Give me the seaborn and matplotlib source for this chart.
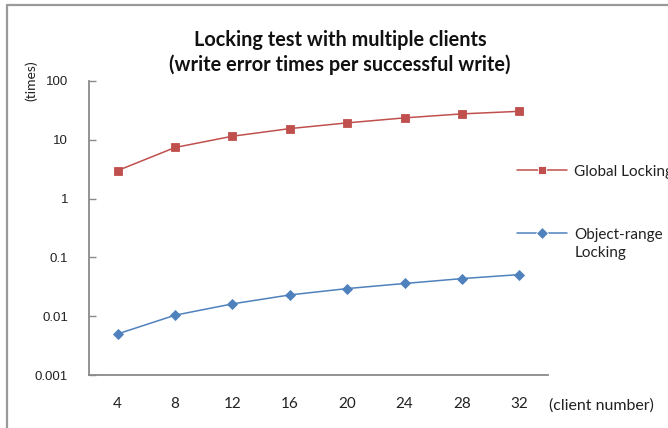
import matplotlib
matplotlib.use("Agg")
import matplotlib.pyplot as plt
import matplotlib.ticker as mticker
from matplotlib.lines import Line2D
import numpy as np
import pandas as pd
import seaborn as sns

# Data
clients = [4, 8, 12, 16, 20, 24, 28, 32]
global_locking = [3.0, 7.4, 11.5, 15.5, 19.4, 23.6, 27.6, 30.5]
object_range_locking = [0.005, 0.0104, 0.0162, 0.023, 0.0295, 0.036, 0.0436, 0.051]
series_names = ["Global Locking", "Object-range\nLocking"]
y_ticks = [0.001, 0.01, 0.1, 1, 10, 100]

df = pd.DataFrame({
    "clients": clients * 2,
    "value": global_locking + object_range_locking,
    "series": [series_names[0]] * len(clients) + [series_names[1]] * len(clients),
})

sns.set_theme(style="white")
plt.rcParams["font.family"] = ["Lato", "DejaVu Sans"]

RED = "#C0504D"
BLUE = "#4F81BD"
SPINE = "#8a8a8a"
TEXT = "#222222"

fig = plt.figure(figsize=(6.68, 4.28), dpi=100)
ax = fig.add_axes([89 / 668, 1 - 375 / 428, (548 - 89) / 668, (375 - 81) / 428])

sns.lineplot(
    data=df, x="clients", y="value", hue="series", style="series",
    palette=[RED, BLUE], markers=["s", "D"], dashes=False,
    markersize=6, linewidth=1.1, markeredgewidth=0.6, ax=ax,
)
for line, mec in zip(ax.lines, [RED, BLUE]):
    line.set_markeredgecolor(mec)
ax.lines[1].set_markersize(5)

ax.set_yscale("log")
ax.set_ylim(0.001, 100)
ax.set_xlim(2, 34)
ax.set_yticks(y_ticks)
ax.yaxis.set_major_formatter(mticker.FuncFormatter(lambda v, _: f"{v:g}"))
ax.yaxis.set_minor_locator(mticker.NullLocator())
ax.set_xticks(clients)
ax.set_xticklabels([str(c) for c in clients])
ax.set_xlabel("")
ax.set_ylabel("")

for side in ["top", "right"]:
    ax.spines[side].set_visible(False)
for side in ["left", "bottom"]:
    ax.spines[side].set_color(SPINE)
    ax.spines[side].set_linewidth(1.3)

ax.tick_params(axis="y", direction="in", length=5, width=1.0, color=SPINE,
               left=True, pad=15, labelsize=9.5, labelcolor=TEXT)
ax.tick_params(axis="x", length=0, pad=16, labelsize=11, labelcolor=TEXT)
for lab in ax.get_yticklabels():
    lab.set_fontfamily(["Liberation Sans", "DejaVu Sans"])

# Legend on the right side
handles, labels = ax.get_legend_handles_labels()
leg = ax.legend(
    handles, labels, loc="upper left",
    bbox_to_anchor=(517 / 668, 1 - 165 / 428), bbox_transform=fig.transFigure,
    frameon=False, fontsize=11, handlelength=3.3, handletextpad=0.45,
    labelspacing=3.2, borderaxespad=0, borderpad=0,
)
for t in leg.get_texts():
    t.set_color(TEXT)
    t.set_linespacing(1.35)
# keep each legend marker level with the first line of its label
for column in leg._legend_handle_box.get_children():
    for entry in column.get_children():
        entry.align = "top"

# Titles and axis captions
fig.text(340 / 668, 1 - 40 / 428, "Locking test with multiple clients",
         ha="center", va="center", fontsize=14.3, fontweight="bold", color="#111111")
fig.text(340 / 668, 1 - 65 / 428, "(write error times per successful write)",
         ha="center", va="center", fontsize=14.3, fontweight="bold", color="#111111")
fig.text(31 / 668, 1 - 81 / 428, "(times)", rotation=90, ha="center", va="center",
         fontsize=10, color=TEXT)
fig.text(549 / 668, 1 - 406 / 428, "(client number)", ha="left", va="center",
         fontsize=11.5, color=TEXT)

# Outer chart frame
fig.add_artist(Line2D([6.5 / 668, 6.5 / 668], [0, 1 - 5 / 428],
                      transform=fig.transFigure, color="#9a9a9a", linewidth=1.6))
fig.add_artist(Line2D([6.5 / 668, 1], [1 - 5 / 428, 1 - 5 / 428],
                      transform=fig.transFigure, color="#9a9a9a", linewidth=1.6))

fig.savefig("out.png", dpi=100)
